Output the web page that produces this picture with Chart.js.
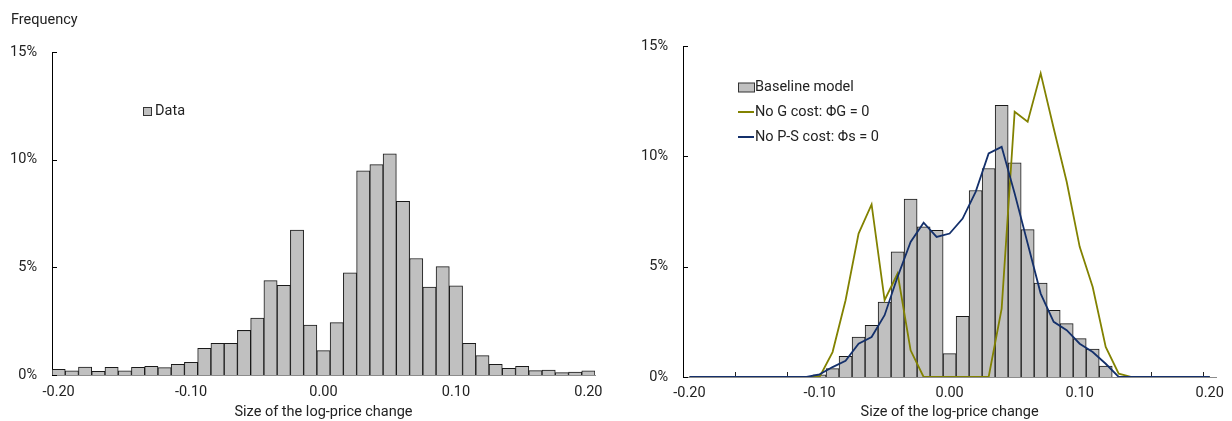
<!DOCTYPE html>
<html><head><meta charset="utf-8">
<script src="https://cdn.jsdelivr.net/npm/chart.js@4/dist/chart.umd.min.js"></script>
<style>
html,body{margin:0;padding:0;background:#fff;overflow:hidden}
#wrap{position:relative;width:1232px;height:421px}
canvas{position:absolute;top:0}
</style></head><body>
<div id="wrap">
<canvas id="c1" width="615" height="421" style="left:0;width:615px;height:421px"></canvas>
<canvas id="c2" width="617" height="421" style="left:615px;width:617px;height:421px"></canvas>
</div>
<script>
// ---- data ----
const categories = ["-0.20","-0.19","-0.18","-0.17","-0.16","-0.15","-0.14","-0.13","-0.12","-0.11",
  "-0.10","-0.09","-0.08","-0.07","-0.06","-0.05","-0.04","-0.03","-0.02","-0.01",
  "0.00","0.01","0.02","0.03","0.04","0.05","0.06","0.07","0.08","0.09",
  "0.10","0.11","0.12","0.13","0.14","0.15","0.16","0.17","0.18","0.19","0.20"];
const xTickLabels = ["-0.20","-0.10","0.00","0.10","0.20"];
const yTickValues = [0,5,10,15];

const dataFreq = [0.26,0.19,0.37,0.17,0.36,0.19,0.36,0.40,0.34,0.49,
  0.59,1.24,1.47,1.47,2.07,2.64,4.38,4.16,6.73,2.32,
  1.13,2.43,4.75,9.48,9.77,10.27,8.06,5.41,4.08,5.03,
  4.14,1.47,0.90,0.49,0.31,0.40,0.20,0.23,0.11,0.14,0.19];

const baselineModel = [0,0,0,0,0,0,0,0,0,0,
  0.10,0.38,0.94,1.81,2.34,3.40,5.67,8.06,6.80,6.65,
  1.06,2.75,8.45,9.45,12.31,9.71,6.68,4.26,3.02,2.42,
  1.74,1.26,0.50,0,0,0,0,0,0,0,0];

const noGCost = [0,0,0,0,0,0,0,0,0,0,
  0,1.13,3.48,6.50,7.82,3.48,4.69,1.21,0,0,
  0,0,0,0,3.10,12.02,11.57,13.76,11.27,8.85,
  5.90,4.08,1.36,0.15,0,0,0,0,0,0,0];

const noPSCost = [0,0,0,0,0,0,0,0,0,0,
  0.12,0.45,0.73,1.51,1.81,2.80,4.54,6.12,6.99,6.35,
  6.50,7.18,8.39,10.13,10.43,8.32,6.05,3.78,2.50,2.12,
  1.51,1.13,0.60,0,0,0,0,0,0,0,0];

// ---- styling ----
const FS = 14.5;
Chart.defaults.font.family = 'Roboto';
Chart.defaults.font.size = FS;
Chart.defaults.color = '#222';

const BAR_FILL = '#c0c0c0';
const BAR_EDGE = '#1a1a1a';
const OLIVE = '#828200';
const NAVY = '#14306b';

const marksPlugin = {
  id: 'marks',
  beforeDatasetsDraw(chart, args, opts) {
    const {ctx, scales: {x, y}} = chart;
    ctx.save();
    ctx.strokeStyle = '#222';
    ctx.lineWidth = 1;
    if (opts.xEvery) {
      for (let k = opts.xEvery; k < categories.length; k += opts.xEvery) {
        const px = Math.round((x.getPixelForValue(k - 1) + x.getPixelForValue(k)) / 2) + 0.5;
        ctx.beginPath(); ctx.moveTo(px, y.bottom); ctx.lineTo(px, y.bottom - 5); ctx.stroke();
      }
    }
    ctx.restore();
  },
  afterDraw(chart, args, opts) {
    const {ctx, scales: {x, y}} = chart;
    ctx.save();
    ctx.strokeStyle = '#000';
    ctx.lineWidth = 1;
    yTickValues.forEach(v => {
      const py = Math.round(y.getPixelForValue(v)) + 0.5;
      ctx.beginPath(); ctx.moveTo(x.left, py); ctx.lineTo(x.left + 5, py); ctx.stroke();
    });
    // legend
    const L = opts.legend || [];
    ctx.font = FS + 'px Roboto';
    ctx.textBaseline = 'middle';
    ctx.textAlign = 'left';
    L.forEach(it => {
      const ds = chart.data.datasets[it.ds];
      if (it.type === 'box') {
        ctx.fillStyle = BAR_FILL;
        ctx.fillRect(it.x + 0.5, it.y - it.h / 2 + 0.5, it.w, it.h);
        ctx.strokeStyle = '#333';
        ctx.strokeRect(it.x + 0.5, it.y - it.h / 2 + 0.5, it.w, it.h);
      } else {
        ctx.strokeStyle = ds.borderColor;
        ctx.lineWidth = 2;
        ctx.beginPath(); ctx.moveTo(it.x, it.y); ctx.lineTo(it.x + it.w, it.y); ctx.stroke();
        ctx.lineWidth = 1;
      }
      ctx.fillStyle = '#222';
      ctx.fillText(ds.label, it.tx, it.y);
    });
    if (opts.title) {
      ctx.fillStyle = '#222';
      ctx.fillText(opts.title.text, opts.title.x, opts.title.y);
    }
    ctx.restore();
  }
};

function makeScales(yWidth, xHeight, xPad) {
  return {
    x: {
      type: 'category',
      offset: true,
      grid: { display: false, drawTicks: false },
      border: { display: true, color: '#8c8c8c', width: 1 },
      ticks: {
        autoSkip: false, maxRotation: 0, minRotation: 0, padding: xPad,
        callback: function(v, i) { const l = categories[i]; return xTickLabels.includes(l) ? l : ''; }
      },
      title: { display: true, text: 'Size of the log-price change', padding: { top: 0, bottom: 0 }, font: { size: FS } },
      afterFit: s => { s.height = xHeight; }
    },
    y: {
      type: 'linear',
      min: 0, max: 15,
      grid: { display: false, drawTicks: false },
      border: { display: true, color: '#000', width: 1 },
      ticks: { stepSize: 5, padding: 15, callback: v => v + '%' },
      afterBuildTicks: s => { s.ticks = yTickValues.map(v => ({ value: v })); },
      afterFit: s => { s.width = yWidth; }
    }
  };
}

new Chart(document.getElementById('c1'), {
  type: 'bar',
  data: {
    labels: categories,
    datasets: [{
      label: 'Data',
      data: dataFreq,
      backgroundColor: BAR_FILL,
      borderColor: BAR_EDGE,
      borderWidth: 1,
      categoryPercentage: 1,
      barPercentage: 1
    }]
  },
  options: {
    responsive: false,
    animation: false,
    devicePixelRatio: 1,
    layout: { padding: { top: 52, right: 20, left: 0, bottom: 0 } },
    plugins: {
      legend: { display: false },
      tooltip: { enabled: false },
      marks: {
        legend: [{ ds: 0, type: 'box', x: 143, y: 111, w: 8, h: 8, tx: 155 }],
        title: { text: 'Frequency', x: 11, y: 20 }
      }
    },
    scales: makeScales(52, 46, 9)
  },
  plugins: [marksPlugin]
});

new Chart(document.getElementById('c2'), {
  type: 'bar',
  data: {
    labels: categories,
    datasets: [{
      type: 'line',
      label: 'No P-S cost: \u03A6s = 0',
      data: noPSCost,
      borderColor: NAVY,
      borderWidth: 1.8,
      pointRadius: 0,
      tension: 0,
      fill: false,
      order: 0
    }, {
      type: 'line',
      label: 'No G cost: \u03A6G = 0',
      data: noGCost,
      borderColor: OLIVE,
      borderWidth: 1.8,
      pointRadius: 0,
      tension: 0,
      fill: false,
      order: 1
    }, {
      type: 'bar',
      label: 'Baseline model',
      data: baselineModel,
      backgroundColor: BAR_FILL,
      borderColor: BAR_EDGE,
      borderWidth: 1,
      categoryPercentage: 1,
      barPercentage: 1,
      order: 2
    }]
  },
  options: {
    responsive: false,
    animation: false,
    devicePixelRatio: 1,
    layout: { padding: { top: 46, right: 9, left: 0, bottom: 0 } },
    plugins: {
      legend: { display: false },
      tooltip: { enabled: false },
      marks: {
        xEvery: 4,
        legend: [
          { ds: 2, type: 'box', x: 123, y: 87, w: 16, h: 9, tx: 140 },
          { ds: 1, type: 'line', x: 123, y: 112, w: 16, tx: 140 },
          { ds: 0, type: 'line', x: 123, y: 137, w: 16, tx: 140 }
        ]
      }
    },
    scales: makeScales(68, 44, 8)
  },
  plugins: [marksPlugin]
});
</script>
</body></html>
